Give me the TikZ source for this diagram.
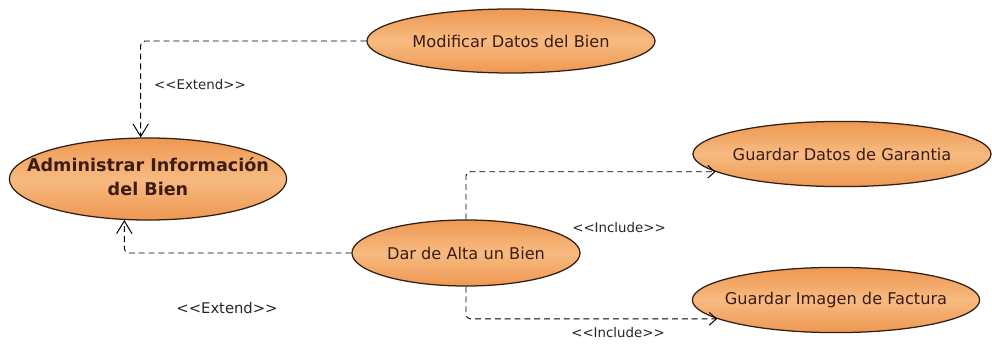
\documentclass[tikz,border=0pt]{standalone}
\usepackage{fontspec}
\setmainfont{DejaVu Sans}
\usetikzlibrary{shapes.geometric,arrows.meta}
\definecolor{ucEdge}{RGB}{238,152,82}
\definecolor{ucMid}{RGB}{247,186,128}
\definecolor{ucLine}{RGB}{50,32,18}
\definecolor{ucText}{RGB}{60,28,20}
\begin{document}
\begin{tikzpicture}[x=0.025cm,y=-0.025cm,
  usecase/.style={ellipse, draw=ucLine, line width=0.9pt, top color=ucEdge, bottom color=ucEdge, middle color=ucMid,
    inner sep=0pt, text=ucText, font=\fontsize{11.5}{13}\selectfont},
  dep/.style={draw=black, line width=0.65pt, dash pattern=on 4.2pt off 2.8pt, rounded corners=3pt},
  extendtip/.style={-{Straight Barb[length=9pt,width=11pt,line width=0.7pt]}},
  includetip/.style={-{Straight Barb[length=5pt,width=9pt,line width=0.7pt]}},
  stereo/.style={font=\fontsize{9.5}{11}\selectfont, text=black!85}]
\useasboundingbox (0,0) rectangle (992,347);
\node[usecase, minimum width=7.2cm, minimum height=1.6cm] (mdb) at (511,41) {\makebox[0pt]{Modificar Datos del Bien}};
\node[usecase, minimum width=6.93cm, minimum height=2.05cm] (adm) at (148,179) {\makebox[0pt]{\fontsize{12.5}{17}\selectfont\bfseries\begin{tabular}{@{}c@{}}Administrar Información\\del Bien\end{tabular}}};
\node[usecase, minimum width=5.7cm, minimum height=1.65cm] (dab) at (466,253) {\makebox[0pt]{Dar de Alta un Bien}};
\node[usecase, minimum width=7.45cm, minimum height=1.63cm] (gdg) at (842,154) {\makebox[0pt]{Guardar Datos de Garantia}};
\node[usecase, minimum width=7.18cm, minimum height=1.63cm] (gif) at (836,300) {\makebox[0pt]{Guardar Imagen de Factura}};
\path[dep,extendtip] (mdb.west) -| (adm.100);
\path[dep,extendtip] (dab.west) -| (adm.240);
\path[dep,includetip] (dab.north) |- (gdg.188);
\path[dep,includetip] (dab.south) |- (gif.189);
\node[stereo] (ext1) at (200,85) {<{}<Extend>{}>};
\node[stereo, font=\fontsize{10.5}{12}\selectfont] (ext2) at (227,308) {<{}<Extend>{}>};
\node[stereo] (inc1) at (619,228) {<{}<Include>{}>};
\node[stereo] (inc2) at (618,333) {<{}<Include>{}>};
\end{tikzpicture}
\end{document}
